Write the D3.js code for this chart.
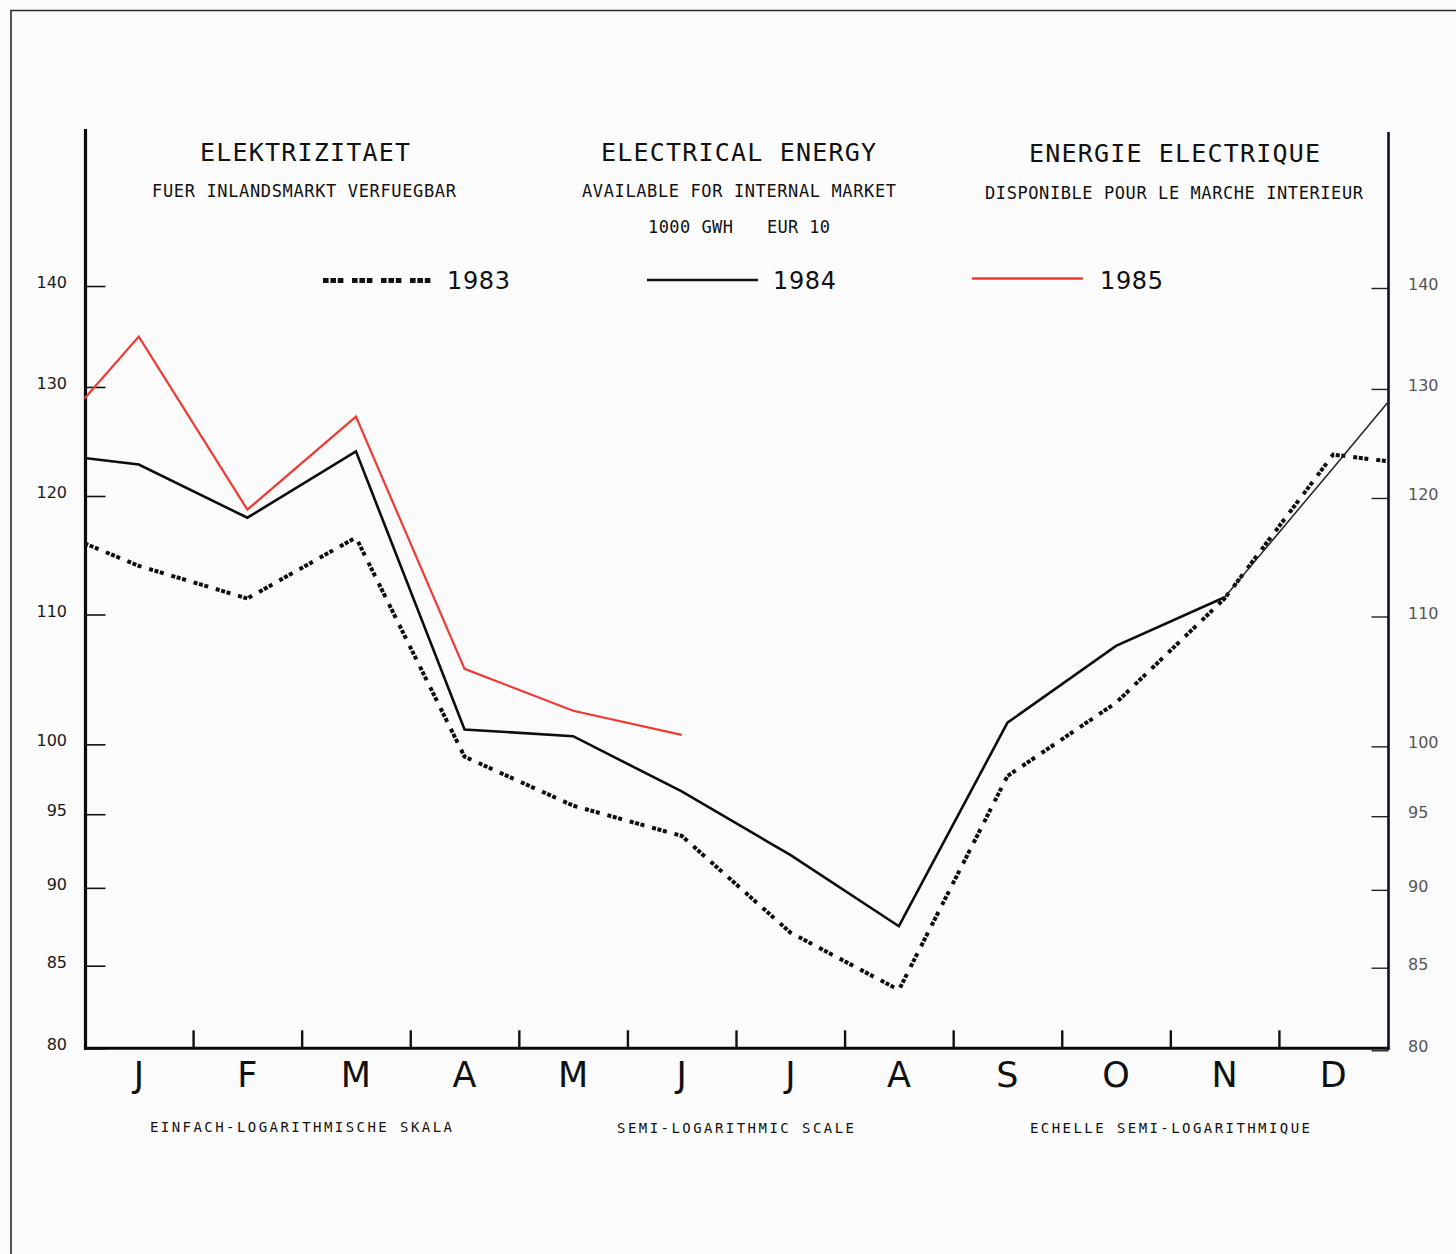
<!DOCTYPE html>
<html>
<head>
<meta charset="utf-8">
<script src="https://cdn.jsdelivr.net/npm/d3@7"></script>
<style>
  html, body { margin: 0; padding: 0; background: #fbfbfb; }
  svg { display: block; }
</style>
</head>
<body>
<script>
// Month initials along the bottom axis
const months = ["J", "F", "M", "A", "M", "J", "J", "A", "S", "O", "N", "D"];
// Position of each plotted value in month units: 0 = left edge of January,
// 0.5 = mid-January ... 11.5 = mid-December, 12 = right edge of December
const monthPos = [0, 0.5, 1.5, 2.5, 3.5, 4.5, 5.5, 6.5, 7.5, 8.5, 9.5, 10.5, 11.5, 12];
// Available electricity, 1000 GWh
const values1983 = [115.9, 114.0, 111.3, 116.4, 99.1, 95.6, 93.5, 87.1, 83.5, 97.7, 103.1, 111.3, 123.7, 123.1];
const values1984 = [123.4, 122.8, 118.1, 124.0, 101.1, 100.6, 96.6, 92.2, 87.5, 101.6, 107.5, 111.4, 122.5, 128.5];
const values1985 = [128.9, 134.9, 118.8, 127.2, 105.7, 102.5, 100.7];
// Semi-logarithmic value axis
const yTicks = [80, 85, 90, 95, 100, 110, 120, 130, 140];
const legendYears = ["1983", "1984", "1985"];

const W = 1456, H = 1254;
const monoFont = "'DejaVu Sans Mono', 'Liberation Mono', monospace";
const sansFont = "'DejaVu Sans', 'Liberation Sans', sans-serif";

const svg = d3.select("body").append("svg")
  .attr("width", W).attr("height", H)
  .attr("viewBox", `0 0 ${W} ${H}`);

svg.append("rect").attr("width", W).attr("height", H).attr("fill", "#fbfbfb");

// sheet border (top and left edges)
svg.append("path")
  .attr("d", `M11,${H} V10.5 H${W}`)
  .attr("fill", "none").attr("stroke", "#2a2a2a").attr("stroke-width", 1.6);

const x = d3.scaleLinear().domain([0, 12]).range([84.5, 1387.5]);
const y = d3.scaleLog().domain([80, 140]).range([1048.3, 286]);

// ---------- headings ----------
function fitText(txt, x0, base, size, width, family, color) {
  svg.append("text")
    .attr("x", x0).attr("y", base)
    .attr("font-family", family)
    .attr("font-size", size)
    .attr("fill", color || "#111")
    .attr("textLength", width)
    .attr("lengthAdjust", "spacing")
    .text(txt);
}
fitText("ELEKTRIZITAET", 200, 160.5, 25, 210, monoFont);
fitText("ELECTRICAL ENERGY", 601, 161, 25, 275, monoFont);
fitText("ENERGIE ELECTRIQUE", 1029, 161.5, 25, 291, monoFont);

fitText("FUER INLANDSMARKT VERFUEGBAR", 152, 196.5, 17, 304, monoFont);
fitText("AVAILABLE FOR INTERNAL MARKET", 582, 197, 17, 314, monoFont);
fitText("DISPONIBLE POUR LE MARCHE INTERIEUR", 985, 198.5, 17, 378, monoFont);

fitText("1000 GWH", 648, 233, 17, 85, monoFont);
fitText("EUR 10", 767, 233, 17, 63, monoFont);

fitText("EINFACH-LOGARITHMISCHE SKALA", 150, 1132, 14, 302, monoFont);
fitText("SEMI-LOGARITHMIC SCALE", 617, 1132.5, 14, 237, monoFont);
fitText("ECHELLE SEMI-LOGARITHMIQUE", 1030, 1133, 14, 280, monoFont);

// ---------- legend ----------
const dotPattern = "4,1.6,4,1.6,4,8";
const legendDotPattern = "5.6,1.8,5.6,1.8,5.6,8.6";
const legend = [
  { x1: 323, x2: 431, ly: 280.5, tx: 447, color: "#111", w: 5, dash: legendDotPattern },
  { x1: 647, x2: 758, ly: 280, tx: 773, color: "#111", w: 2.6, dash: null },
  { x1: 972, x2: 1083, ly: 278.5, tx: 1100, color: "#ee3a33", w: 2.4, dash: null }
];
legend.forEach((d, i) => {
  svg.append("line")
    .attr("x1", d.x1).attr("x2", d.x2).attr("y1", d.ly).attr("y2", d.ly)
    .attr("stroke", d.color).attr("stroke-width", d.w)
    .attr("stroke-dasharray", d.dash);
  svg.append("text")
    .attr("x", d.tx).attr("y", 288.5)
    .attr("font-family", sansFont).attr("font-size", 24)
    .attr("fill", "#111")
    .attr("textLength", 63).attr("lengthAdjust", "spacing")
    .text(legendYears[i]);
});

// ---------- axes ----------
// left value axis
const leftAxis = svg.append("g").attr("transform", `translate(85.5,0)`)
  .call(d3.axisLeft(y).tickValues(yTicks).tickSizeInner(-20).tickSizeOuter(0)
    .tickPadding(18.5).tickFormat(d3.format("d")));
leftAxis.select(".domain").remove();
leftAxis.selectAll(".tick line").attr("stroke", "#111").attr("stroke-width", 1.6);
leftAxis.selectAll(".tick text")
  .attr("font-family", sansFont).attr("font-size", 16)
  .attr("fill", "#1a1a1a").attr("dy", null).attr("y", 1.5);
svg.append("line")
  .attr("x1", 85.5).attr("x2", 85.5).attr("y1", 129).attr("y2", y(80) + 1.5)
  .attr("stroke", "#0a0a0a").attr("stroke-width", 3.2);

// right value axis (sits a touch lower on the sheet)
const rightAxis = svg.append("g").attr("transform", `translate(1388.5,2)`)
  .call(d3.axisRight(y).tickValues(yTicks).tickSizeInner(-17).tickSizeOuter(0)
    .tickPadding(19.5).tickFormat(d3.format("d")));
rightAxis.select(".domain").remove();
rightAxis.selectAll(".tick line").attr("stroke", "#222").attr("stroke-width", 1.4);
rightAxis.selectAll(".tick text")
  .attr("font-family", sansFont).attr("font-size", 16)
  .attr("fill", "#555").attr("dy", null).attr("y", 1.5);
svg.append("line")
  .attr("x1", 1388.5).attr("x2", 1388.5).attr("y1", 132).attr("y2", y(80) + 1.5)
  .attr("stroke", "#10102a").attr("stroke-width", 2.6);

// month axis
const bottomAxis = svg.append("g").attr("transform", `translate(0,${y(80)})`)
  .call(d3.axisBottom(x).tickValues(d3.range(1, 12)).tickSizeInner(-18)
    .tickSizeOuter(0).tickFormat(""));
bottomAxis.select(".domain").remove();
bottomAxis.selectAll(".tick line").attr("stroke", "#111").attr("stroke-width", 2.4);
svg.append("line")
  .attr("x1", 84).attr("x2", 1389.5).attr("y1", y(80)).attr("y2", y(80))
  .attr("stroke", "#0a0a0a").attr("stroke-width", 3);

svg.append("g").selectAll("text").data(months).join("text")
  .attr("x", (d, i) => x(i + 0.5))
  .attr("y", 1087)
  .attr("text-anchor", "middle")
  .attr("font-family", sansFont).attr("font-size", 35)
  .attr("fill", "#111")
  .text(d => d);

// ---------- series ----------
const line = d3.line().x(d => x(d[0])).y(d => y(d[1]));
const zip = vals => vals.map((v, i) => [monthPos[i], v]);

const s1983 = zip(values1983);
const s1984 = zip(values1984);
const s1985 = zip(values1985);

svg.append("path").datum(s1983).attr("d", line)
  .attr("fill", "none").attr("stroke", "#0d0d0d").attr("stroke-width", 4)
  .attr("stroke-dasharray", dotPattern);

// 1984: heavy pen up to November, fine pen for the last stretch
svg.append("path").datum(s1984.slice(0, 12)).attr("d", line)
  .attr("fill", "none").attr("stroke", "#0d0d0d").attr("stroke-width", 2.6)
  .attr("stroke-linejoin", "miter");
svg.append("path").datum(s1984.slice(11)).attr("d", line)
  .attr("fill", "none").attr("stroke", "#222").attr("stroke-width", 1.5);

svg.append("path").datum(s1985).attr("d", line)
  .attr("fill", "none").attr("stroke", "#ee3a33").attr("stroke-width", 2.2);
</script>
</body>
</html>
